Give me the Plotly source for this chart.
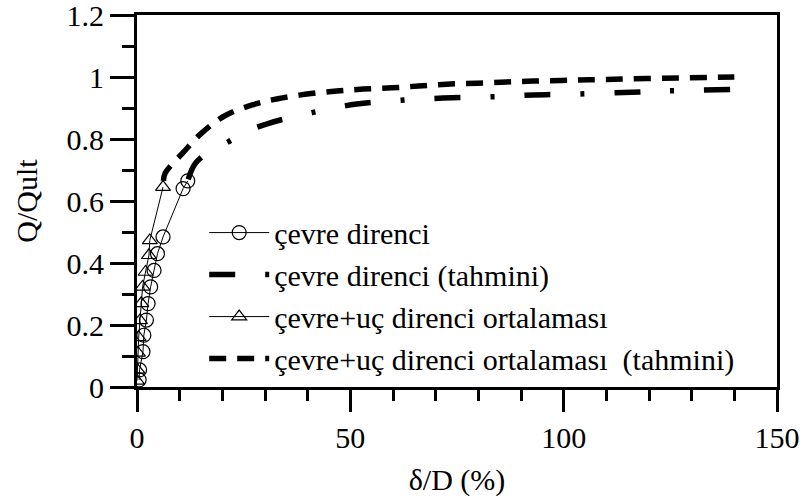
import plotly.graph_objects as go

# Measured data: çevre direnci (circles)
cevre_x = [0.5, 0.6, 1.4, 1.6, 2.2, 2.6, 3.2, 4.0, 4.8, 6.1, 10.8, 11.9]
cevre_y = [0.023, 0.055, 0.114, 0.167, 0.216, 0.269, 0.323, 0.376, 0.43, 0.484, 0.64, 0.665]

# çevre+uç direnci ortalaması (triangles)
ort_x = [0.0, 0.1, 0.2, 0.4, 0.7, 1.0, 1.3, 2.0, 2.8, 3.0, 6.1]
ort_y = [0.02, 0.055, 0.11, 0.16, 0.215, 0.27, 0.323, 0.371, 0.425, 0.473, 0.645]

# çevre direnci (tahmini) - dash-dot curve
cevre_t_x = [12, 13.6, 17, 21.3, 25, 30.7, 41, 51.5, 61.6, 71.7, 82.7, 92.8, 103, 114, 124, 140]
cevre_t_y = [0.67, 0.72, 0.76, 0.79, 0.82, 0.85, 0.885, 0.913, 0.925, 0.932, 0.936, 0.942, 0.945, 0.95, 0.955, 0.96]

# çevre+uç direnci ortalaması (tahmini) - dashed curve
ort_t_x = [6.2, 6.6, 10.8, 15.2, 20.6, 27, 33, 39.8, 46.8, 53, 59.7, 66, 72.6, 79.6, 86.6, 92.8, 99.5, 106, 119.5, 140]
ort_t_y = [0.665, 0.69, 0.756, 0.82, 0.875, 0.91, 0.93, 0.945, 0.955, 0.961, 0.965, 0.971, 0.977, 0.98, 0.984, 0.987, 0.989, 0.991, 0.995, 1.0]

x_ticks = [0, 50, 100, 150]
y_ticks = [0, 0.2, 0.4, 0.6, 0.8, 1, 1.2]
y_tick_text = ["0", "0.2", "0.4", "0.6", "0.8", "1", "1.2"]

FONT = "Times New Roman, Liberation Serif, Times, serif"

fig = go.Figure()
fig.add_trace(go.Scatter(
    x=cevre_x, y=cevre_y, mode="lines+markers", name="çevre direnci",
    line=dict(color="black", width=1),
    marker=dict(symbol="circle-open", size=14, color="black", line=dict(width=1.2)),
))
fig.add_trace(go.Scatter(
    x=cevre_t_x, y=cevre_t_y, mode="lines", name="çevre direnci (tahmini)",
    line=dict(color="black", width=5.5, dash="26px,30px,4px,30px", shape="spline"),
))
fig.add_trace(go.Scatter(
    x=ort_x, y=ort_y, mode="lines+markers", name="çevre+uç direnci ortalaması",
    line=dict(color="black", width=1),
    marker=dict(symbol="triangle-up-open", size=13, color="black", line=dict(width=1.2)),
))
fig.add_trace(go.Scatter(
    x=ort_t_x, y=ort_t_y, mode="lines", name="çevre+uç direnci ortalaması\u00a0\u00a0(tahmini)",
    line=dict(color="black", width=5.5, dash="17px,11px", shape="spline"),
))

fig.update_layout(
    width=805, height=499,
    margin=dict(l=137, r=28, t=15, b=112),
    paper_bgcolor="white", plot_bgcolor="white",
    font=dict(family=FONT, size=30, color="black"),
    showlegend=True,
    legend=dict(
        x=0.105, y=0.485, xanchor="left", yanchor="top",
        font=dict(family=FONT, size=30, color="black"),
        bgcolor="rgba(0,0,0,0)", borderwidth=0,
        tracegroupgap=0, itemwidth=60,
    ),
    xaxis=dict(
        range=[0, 150], tickvals=x_ticks, ticks="outside", ticklen=22, tickwidth=3,
        tickcolor="black", showline=True, linewidth=3, linecolor="black", mirror=True,
        showgrid=False, zeroline=False, automargin=False,
        minor=dict(dtick=10, ticks="outside", ticklen=11, tickwidth=3, tickcolor="black", showgrid=False),
        title=dict(text="δ/D (%)", font=dict(family=FONT, size=30), standoff=16),
        tickfont=dict(family=FONT, size=30),
    ),
    yaxis=dict(
        range=[0, 1.2001], tickvals=y_ticks, ticktext=y_tick_text, ticks="outside", ticklen=24, tickwidth=3,
        tickcolor="black", showline=True, linewidth=3, linecolor="black", mirror=True,
        showgrid=False, zeroline=False, ticklabeloverflow="allow", automargin=False,
        minor=dict(dtick=0.1, ticks="outside", ticklen=12, tickwidth=3, tickcolor="black", showgrid=False),
        title=dict(text="Q/Qult", font=dict(family=FONT, size=30), standoff=21),
        tickfont=dict(family=FONT, size=30),
    ),
)

fig.write_html("out.html")
